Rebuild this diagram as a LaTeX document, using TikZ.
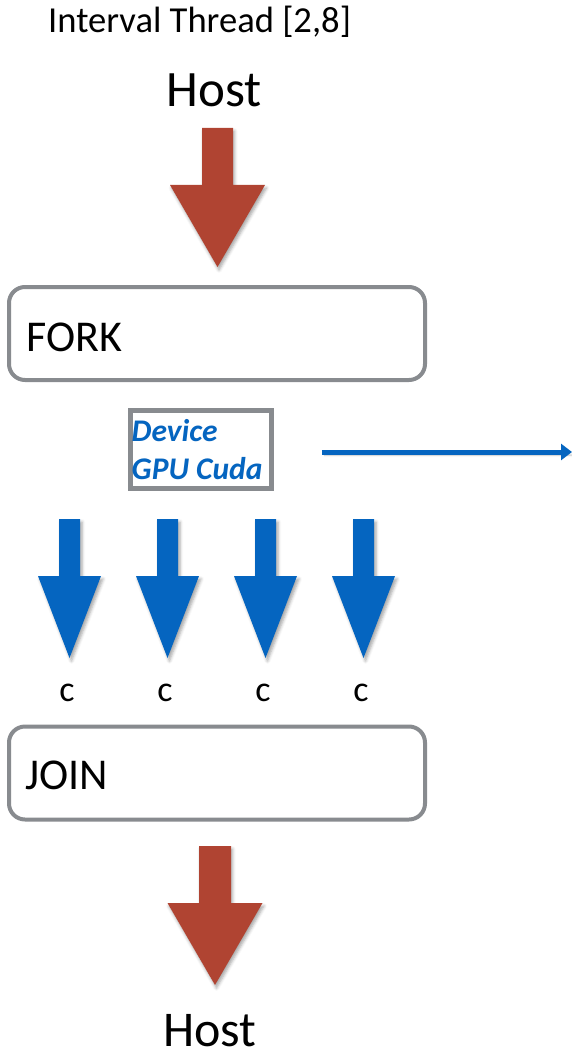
\documentclass[tikz,border=0pt]{standalone}
\usepackage{fontspec}
\setmainfont{Carlito}
\usetikzlibrary{arrows.meta,shadows.blur}

\definecolor{hostred}{HTML}{B04432}
\definecolor{cudablue}{HTML}{0565C0}
\definecolor{boxgrey}{HTML}{888B8F}

% filled block arrow pointing down:
% #1 style, #2 centre x, #3 top, #4 neck, #5 tip, #6 half shaft width, #7 half head width
\newcommand{\blockdown}[7]{%
  \fill[#1] ({#2-#6},#3) -- ({#2+#6},#3) -- ({#2+#6},#4) -- ({#2+#7},#4)
    -- (#2,#5) -- ({#2-#7},#4) -- ({#2-#6},#4) -- cycle;}

\tikzset{
  label/.style={inner sep=0pt, anchor=base, text=black},
  stage/.style={draw=boxgrey, line width=4pt, rounded corners=16pt, fill=white,
    minimum width=416pt, minimum height=93pt, inner sep=0pt},
  devbox/.style={draw=boxgrey, line width=4.5pt, fill=white,
    minimum width=141pt, minimum height=78pt, inner sep=0pt},
  devtext/.style={inner sep=0pt, anchor=base west, text=cudablue,
    font=\fontsize{31.5}{37}\selectfont\bfseries\itshape},
  redarrow/.style={fill=hostred,
    blur shadow={shadow xshift=1.5pt, shadow yshift=-3pt, shadow blur radius=3pt, shadow opacity=35}},
  bluearrow/.style={fill=cudablue,
    blur shadow={shadow xshift=2pt, shadow yshift=-3pt, shadow blur radius=3pt, shadow opacity=35}},
}

\begin{document}
\begin{tikzpicture}[x=1pt, y=-1pt]
  \useasboundingbox (0,0) rectangle (572,1051);

  % heading
  \node[label, anchor=base west, font=\fontsize{36.6}{40}\selectfont] (title) at (48,33) {Interval Thread [2,8]};

  % host at the top
  \node[label, font=\fontsize{51}{56}\selectfont] (hosttop) at (214,107) {Host};
  \blockdown{redarrow}{217.5}{128}{185}{267}{15.5}{47.5}

  % fork stage
  \node[stage] (fork) at (217,333.5) {};
  \node[label, anchor=base west, font=\fontsize{44}{50}\selectfont] (forklbl) at (26,351) {FORK};

  % device box
  \node[devbox] (dev) at (201,449.5) {};
  \node[devtext] (devl1) at (131.5,441) {Device};
  \node[devtext] (devl2) at (131.5,479) {GPU Cuda};

  % arrow to the right of the device box
  \coordinate (devout) at (572,452);
  \draw[cudablue, line width=5pt, -{Triangle[length=11pt, width=16pt]},
    blur shadow={shadow xshift=2pt, shadow yshift=-3pt, shadow blur radius=2pt, shadow opacity=30}]
    ([xshift=48pt]dev.east |- devout) -- (devout);

  % the four CUDA threads
  \foreach \i/\cx in {1/69.5, 2/167.5, 3/265.5, 4/363.5} {
    \blockdown{bluearrow}{\cx}{519}{576}{658}{10.5}{31.5}
    \node[label, font=\fontsize{36}{40}\selectfont] (c\i) at ({\cx-2.5},701) {c};
  }

  % join stage
  \node[stage] (join) at (217,773) {};
  \node[label, anchor=base west, font=\fontsize{44}{50}\selectfont] (joinlbl) at (25,789) {JOIN};

  % host at the bottom
  \blockdown{redarrow}{215}{846}{903}{985}{16}{47.5}
  \node[label, font=\fontsize{50}{56}\selectfont] (hostbot) at (210,1046) {Host};
\end{tikzpicture}
\end{document}
